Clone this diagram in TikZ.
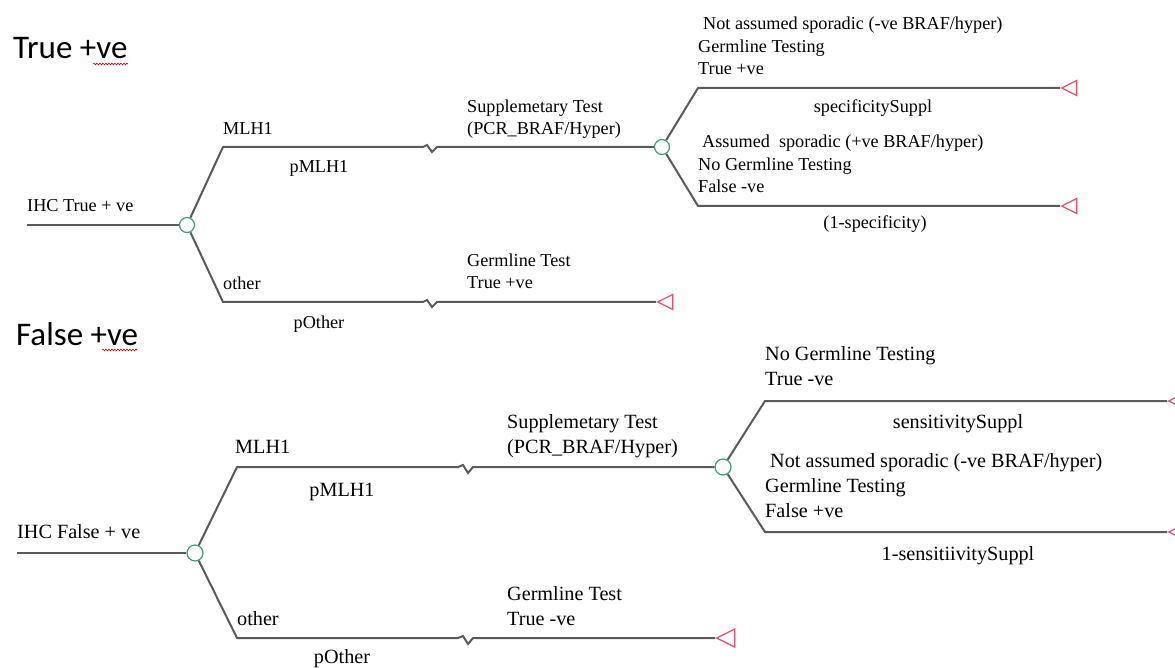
\documentclass[tikz,border=0pt]{standalone}
\usepackage{fontspec}
\setmainfont{Liberation Serif}
\newfontfamily\titlefont{Carlito}
\usetikzlibrary{shapes.geometric,decorations.pathmorphing,calc}
\definecolor{edgegray}{HTML}{5A5A5A}
\definecolor{chancegreen}{HTML}{3E9E6E}
\definecolor{termred}{HTML}{E0506A}
\begin{document}
\begin{tikzpicture}[x=1pt,y=-1pt,
  branch/.style={draw=edgegray,line width=2pt,line join=miter},
  chancenode/.style={circle,draw=chancegreen,line width=1.2pt,fill=white,minimum size=#1,inner sep=0pt},
  chancenode/.default=15pt,
  termnode/.style={isosceles triangle,shape border rotate=180,draw=termred,line width=1.3pt,fill=white,inner sep=0pt,minimum height=#1,minimum width=#1,isosceles triangle stretches,anchor=apex},
  termnode/.default=15pt,
  labA/.style={inner sep=0pt,anchor=base west,align=left,font=\fontsize{18.2}{22.5}\selectfont},
  labAc/.style={inner sep=0pt,anchor=base,font=\fontsize{18.2}{22.5}\selectfont},
  labB/.style={inner sep=0pt,anchor=base west,align=left,font=\fontsize{20.2}{25}\selectfont},
  labBc/.style={inner sep=0pt,anchor=base,font=\fontsize{20.2}{25}\selectfont},
  titlelab/.style={inner sep=0pt,anchor=base west,font=\titlefont\fontsize{33}{38}\selectfont},
  squig/.style={draw=red!85!black,line width=0.6pt,decorate,decoration={snake,amplitude=0.9pt,segment length=3pt}}
]
\useasboundingbox (0,0) rectangle (1175,668);

% ---------------- True +ve ----------------
\node[titlelab] (title1) at (13,59) {True +ve};
\coordinate (sq1a) at (93,64); \coordinate (sq1b) at (128,64);
\draw[squig] (sq1a) -- (sq1b);

\coordinate (rs1) at (27,225);
\node[chancenode] (c1) at (187,225) {};
\coordinate (b1u) at (223,147);
\coordinate (z1u) at (432,147);
\node[chancenode] (c2) at (662,147) {};
\coordinate (b1d) at (223,302);
\coordinate (z1d) at (432,302);
\node[termnode] (t1) at (656,302) {};
\coordinate (b2u) at (698,88);
\node[termnode] (t2) at (1060,88) {};
\coordinate (b2d) at (698,206);
\node[termnode] (t3) at (1060,206) {};

\draw[branch] (rs1) -- (c1);
\draw[branch] (c1) -- (b1u) -- ($(z1u)+(-9,0)$) -- ($(z1u)+(-5,-2)$) -- ($(z1u)+(0,5)$) -- ($(z1u)+(5,0)$) -- (c2);
\draw[branch] (c1) -- (b1d) -- ($(z1d)+(-9,0)$) -- ($(z1d)+(-5,-2)$) -- ($(z1d)+(0,5)$) -- ($(z1d)+(5,0)$) -- (t1);
\draw[branch] (c2) -- (b2u) -- (t2);
\draw[branch] (c2) -- (b2d) -- (t3);

\node[labA] (l1) at (27,212) {IHC True + ve};
\node[labA] (l2) at (223,135) {MLH1};
\node[labAc] (l3) at (319,173) {pMLH1};
\node[labA] (l4) at (223,290) {other};
\node[labAc] (l5) at (319,328) {pOther};
\node[labA] (l6) at (467,135) {Supplemetary Test\\(PCR\_BRAF/Hyper)};
\node[labA] (l7) at (467,289) {Germline Test\\True +ve};
\node[labA] (l8) at (698,75) {\hspace*{5pt}Not assumed sporadic (-ve BRAF/hyper)\\Germline Testing\\True +ve};
\node[labAc] (l9) at (873,113) {specificitySuppl};
\node[labA] (l10) at (698,193) {\hspace*{4pt}Assumed\ \ sporadic (+ve BRAF/hyper)\\No Germline Testing\\False -ve};
\node[labAc] (l11) at (875,229) {(1-specificity)};

% ---------------- False +ve ----------------
\node[titlelab] (title2) at (16,345) {False +ve};
\coordinate (sq2a) at (102,350); \coordinate (sq2b) at (137,350);
\draw[squig] (sq2a) -- (sq2b);

\coordinate (rs2) at (17,553);
\node[chancenode=16pt] (c3) at (195,553) {};
\coordinate (b3u) at (237,467);
\coordinate (z3u) at (468,467);
\node[chancenode=16pt] (c4) at (723,467) {};
\coordinate (b3d) at (237,638);
\coordinate (z3d) at (468,638);
\node[termnode=18pt] (t4) at (715,638) {};
\coordinate (b4u) at (765,401);
\node[termnode=18pt] (t5) at (1167,401) {};
\coordinate (b4d) at (765,532);
\node[termnode=18pt] (t6) at (1167,532) {};

\draw[branch] (rs2) -- (c3);
\draw[branch] (c3) -- (b3u) -- ($(z3u)+(-10,0)$) -- ($(z3u)+(-5,-2)$) -- ($(z3u)+(0,6)$) -- ($(z3u)+(5,0)$) -- (c4);
\draw[branch] (c3) -- (b3d) -- ($(z3d)+(-10,0)$) -- ($(z3d)+(-5,-2)$) -- ($(z3d)+(0,6)$) -- ($(z3d)+(5,0)$) -- (t4);
\draw[branch] (c4) -- (b4u) -- (t5);
\draw[branch] (c4) -- (b4d) -- (t6);

\node[labB] (m1) at (17,538) {IHC False + ve};
\node[labB] (m2) at (235,453) {MLH1};
\node[labBc] (m3) at (342,496) {pMLH1};
\node[labB] (m4) at (237,625) {other};
\node[labBc] (m5) at (342,663) {pOther};
\node[labB] (m6) at (507,453) {Supplemetary Test\\(PCR\_BRAF/Hyper)};
\node[labB] (m7) at (507,625) {Germline Test\\True -ve};
\node[labB] (m8) at (765,385) {No Germline Testing\\True -ve};
\node[labBc] (m9) at (958,428) {sensitivitySuppl};
\node[labB] (m10) at (765,517) {\hspace*{5pt}Not assumed sporadic (-ve BRAF/hyper)\\Germline Testing\\False +ve};
\node[labBc] (m11) at (958,560) {1-sensitiivitySuppl};
\end{tikzpicture}
\end{document}
